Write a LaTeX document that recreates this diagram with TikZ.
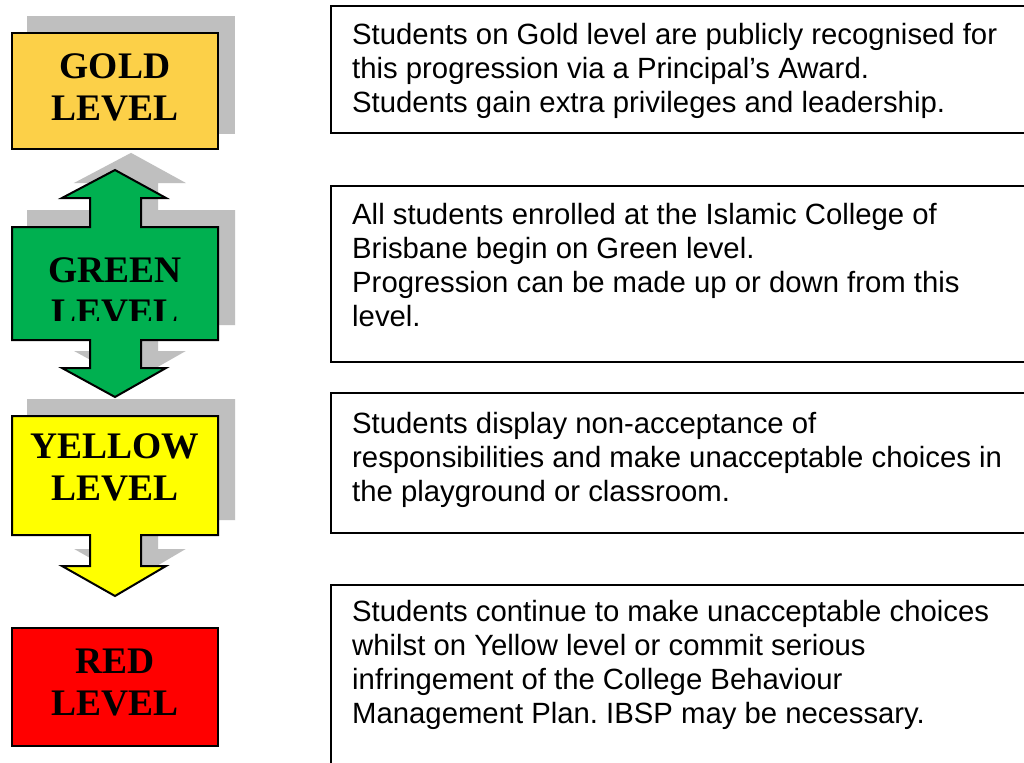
\documentclass[tikz,border=0pt]{standalone}
\usepackage{fontspec}
\setmainfont{Liberation Serif}
\setsansfont{Liberation Sans}
\frenchspacing

\definecolor{goldfill}{RGB}{252,208,72}
\definecolor{greenfill}{RGB}{0,176,80}
\definecolor{yellowfill}{RGB}{255,255,0}
\definecolor{redfill}{RGB}{255,0,0}
\definecolor{shadowgrey}{RGB}{191,191,191}

\tikzset{
	levelshape/.style={draw=black, line width=2pt, line join=miter},
	levelshadow/.style={fill=shadowgrey, draw=shadowgrey, line width=2pt, shift={(16,-16)}},
	levelname/.style={anchor=north, inner sep=0pt, align=center, font=\bfseries\fontsize{37.5}{42}\selectfont},
	infobox/.style={draw=black, line width=2pt},
	infotext/.style={anchor=north west, inner sep=0pt, align=left, font=\sffamily\fontsize{29.3}{34}\selectfont}
}

% outlines of the level shapes
\def\goldbox[#1]{\draw[#1] (12, 33) rectangle (218, 149);}
\def\greenarrow[#1]{\draw[#1] (115, 170) -- (166, 198) -- (141, 198) -- (141, 227) -- (218, 227) -- (218, 340) -- (141, 340) -- (141, 368) -- (166, 368) -- (115, 397) -- (62, 368) -- (90, 368) -- (90, 340) -- (12, 340) -- (12, 227) -- (90, 227) -- (90, 198) -- (62, 198) -- cycle;}
\def\yellowarrow[#1]{\draw[#1] (12, 416) -- (218, 416) -- (218, 535) -- (141, 535) -- (141, 566) -- (166, 566) -- (115, 596) -- (62, 566) -- (90, 566) -- (90, 535) -- (12, 535) -- cycle;}

\begin{document}
\begin{tikzpicture}[x=1pt, y=-1pt]
			%%%%% START %%%%%
			\useasboundingbox (0, 0) rectangle (1024, 762);
			\clip (0, 0) rectangle (1024, 762);
			\fill[white] (0, 0) rectangle (1024, 762);
			
			% shadows
			\goldbox[levelshadow]
			\greenarrow[levelshadow]
			\yellowarrow[levelshadow]
			
			% levels
			\goldbox[levelshape, fill=goldfill]
			\greenarrow[levelshape, fill=greenfill]
			\yellowarrow[levelshape, fill=yellowfill]
			\draw[levelshape, fill=redfill] (12, 628) rectangle (218, 746);
			
			\node[levelname] (gold) at (115, 48.6) {\strut GOLD\\LEVEL};
			\begin{scope}
				\clip (12, 227) rectangle (218, 320);
				\node[levelname] (green) at (115, 252.6) {\strut GREEN\\LEVEL};
			\end{scope}
			\node[levelname] (yellow) at (115, 428.6) {\strut YELLOW\\LEVEL};
			\node[levelname] (red) at (115, 643.6) {\strut RED\\LEVEL};
			
			% descriptions
			\draw[infobox] (331, 6) rectangle (1040, 133);
			\node[infotext] (goldinfo) at (352, 20.2) {\strut Students on Gold level are publicly recognised for\\this progression via a Principal’s Award.\\Students gain extra privileges and leadership.};
			
			\draw[infobox] (331, 186) rectangle (1040, 362);
			\node[infotext] (greeninfo) at (352, 200.2) {\strut All students enrolled at the Islamic College of\\Brisbane begin on Green level.\\Progression can be made up or down from this\\level.};
			
			\draw[infobox] (331, 393) rectangle (1040, 533);
			\node[infotext] (yellowinfo) at (352, 409.2) {\strut Students display non-acceptance of\\responsibilities and make unacceptable choices in\\the playground or classroom.};
			
			\draw[infobox] (331, 585) rectangle (1040, 780);
			\node[infotext] (redinfo) at (352, 597.2) {\strut Students continue to make unacceptable choices\\whilst on Yellow level or commit serious\\infringement of the College Behaviour\\Management Plan. IBSP may be necessary.};
			%%%%% END %%%%%
\end{tikzpicture}
\end{document}
